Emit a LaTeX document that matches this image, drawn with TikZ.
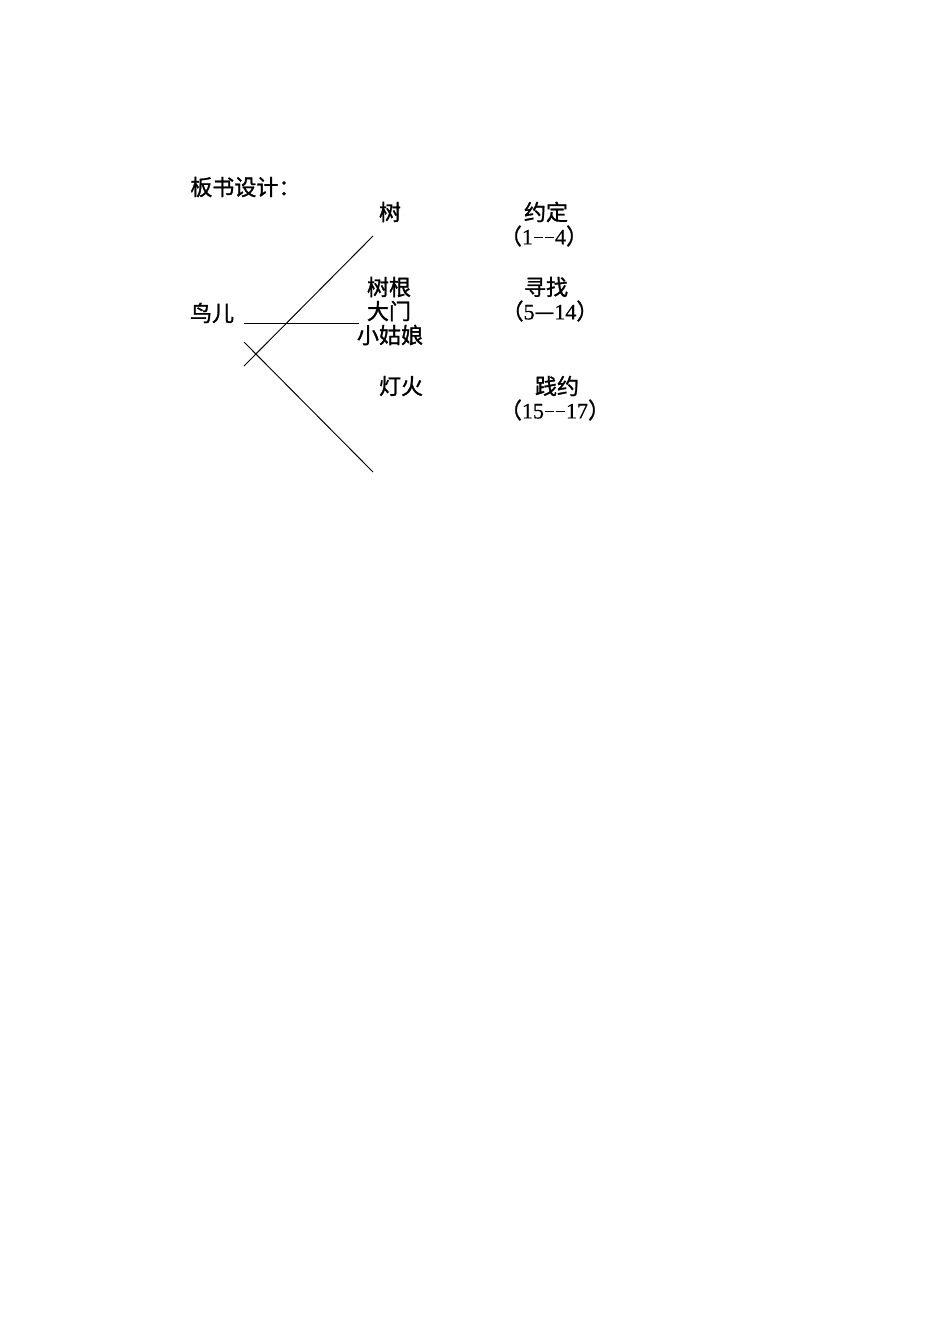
\documentclass[tikz,border=0pt]{standalone}
\usepackage{fontspec}
\setmainfont[FakeBold=0.6]{Liberation Serif}
\newfontfamily\cjk[FakeBold=1.2]{Noto Sans CJK SC}
\newcommand{\hw}[1]{\makebox[0.5em][c]{#1}}
\newcommand{\hy}{\makebox[0.5em][c]{\rule[0.28em]{0.44em}{0.07em}}}
\begin{document}
\begin{tikzpicture}[x=0.6263pt,y=-0.6263pt,
  lbl/.style={inner sep=0pt,font=\fontsize{13.8pt}{16pt}\selectfont\cjk},
  num/.style={inner sep=0pt,font=\fontsize{13.8pt}{16pt}\selectfont},
  ln/.style={line width=0.6pt,black}]
\useasboundingbox (0,0) rectangle (950,1344);
\fill[white] (0,0) rectangle (950,1344);
\node[lbl,anchor=west] (title) at (190,187) {板书设计：};
\node[lbl] (shu) at (390,212) {树};
\node[lbl] (yueding) at (546,212) {约定};
\node[num] (p1) at (544,236) {{\cjk（}\hw{1}\hy\hy\hw{4}{\cjk）}};
\node[lbl] (shugen) at (389,287) {树根};
\node[lbl] (damen) at (389,311) {大门};
\node[lbl] (xiaoguniang) at (390,335) {小姑娘};
\node[lbl] (xunzhao) at (546,287) {寻找};
\node[num] (p2) at (550,311) {{\cjk（}\hw{5}{\cjk —}\hw{1}\hw{4}{\cjk）}};
\node[lbl] (denghuo) at (401,386) {灯火};
\node[lbl] (jianyue) at (557,386) {践约};
\node[num] (p3) at (555,410) {{\cjk（}\hw{1}\hw{5}\hy\hy\hw{1}\hw{7}{\cjk）}};
\node[lbl] (niaoer) at (212,313) {鸟儿};
\coordinate (a1) at (244,366);
\coordinate (a2) at (373,236);
\coordinate (h1) at (244,323);
\coordinate (h2) at (359,323);
\coordinate (b1) at (244,342);
\coordinate (b2) at (373,472);
\draw[ln] (a1) -- (a2);
\draw[ln] (h1) -- (h2);
\draw[ln] (b1) -- (b2);
\end{tikzpicture}
\end{document}
